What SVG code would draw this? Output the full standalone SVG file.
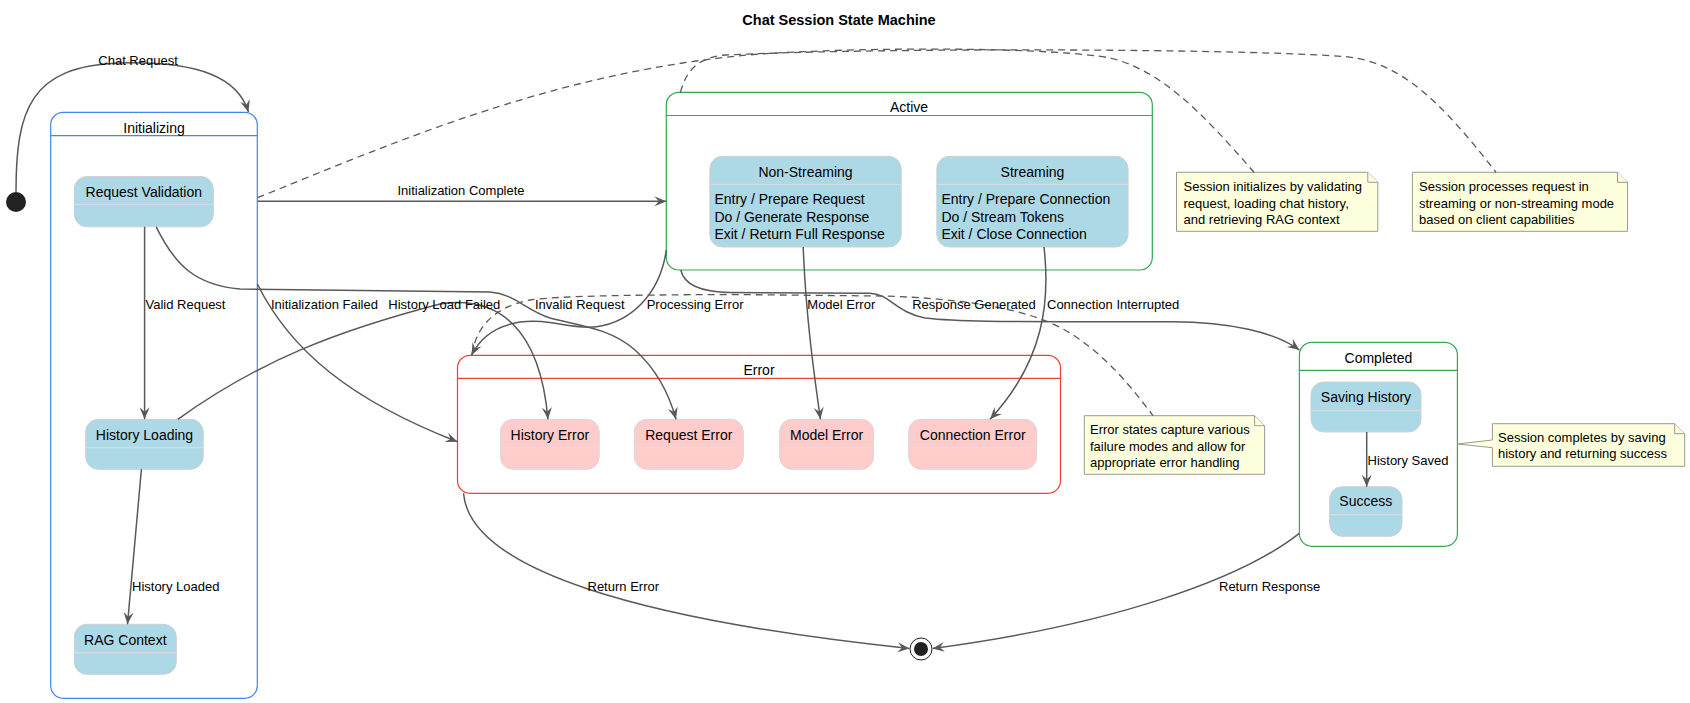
<svg xmlns="http://www.w3.org/2000/svg" width="1690" height="703" viewBox="0 0 1690 703">
<defs>
<marker id="arr" viewBox="0 0 12 12" refX="12" refY="6" markerWidth="12" markerHeight="12" markerUnits="userSpaceOnUse" orient="auto">
<path d="M0,1 L12,6 L0,11 L4.5,6 Z" fill="#595959"/>
</marker>
<style>
text{font-family:"Liberation Sans",Arial,sans-serif;fill:#000}
.title{font-size:14.5px;font-weight:bold;text-anchor:middle}
.st{font-size:14px;text-anchor:middle}
.act{font-size:14px}
.lbl{font-size:13px}
.nt{font-size:13px}
.comp{fill:#fff;stroke-width:1.2}
.blue{stroke:#4285F4}
.green{stroke:#34A853}
.red{stroke:#EA4335}
.sub{fill:#ADD8E6;stroke:#D0D0D0;stroke-width:1}
.esub{fill:#FFCCCC;stroke:#D8D8D8;stroke-width:1}
.div{stroke:#DDDDDD;stroke-width:1}
.note{fill:#FEFFDD;stroke:#999;stroke-width:1}
.tr{fill:none;stroke:#595959;stroke-width:1.5;marker-end:url(#arr)}
.dash{fill:none;stroke:#595959;stroke-width:1.3;stroke-dasharray:7 5}
</style>
</defs>
<rect width="1690" height="703" fill="#fff"/>
<text class="title" x="839" y="25">Chat Session State Machine</text>

<g id="start"><circle cx="16" cy="202" r="10" fill="#222"/></g>

<g id="initializing">
<rect class="comp blue" x="50.7" y="112.3" width="206.6" height="586" rx="12.5"/>
<line class="blue" x1="50.7" y1="135.7" x2="257.3" y2="135.7" stroke-width="1.2"/>
<text class="st" x="154" y="132.5">Initializing</text>
</g>
<g id="request-validation">
<rect class="sub" x="74.3" y="176.5" width="139" height="50.3" rx="12.5"/>
<line class="div" x1="74.3" y1="204.3" x2="213.3" y2="204.3"/>
<text class="st" x="143.8" y="197">Request Validation</text>
</g>
<g id="history-loading">
<rect class="sub" x="85.7" y="419.3" width="117.5" height="50" rx="12.5"/>
<line class="div" x1="85.7" y1="447.7" x2="203.2" y2="447.7"/>
<text class="st" x="144.5" y="440">History Loading</text>
</g>
<g id="rag-context">
<rect class="sub" x="74.3" y="624.3" width="102" height="50" rx="12.5"/>
<line class="div" x1="74.3" y1="652.7" x2="176.3" y2="652.7"/>
<text class="st" x="125.3" y="645">RAG Context</text>
</g>

<g id="active">
<rect class="comp green" x="666.3" y="92.3" width="486" height="177.7" rx="12.5"/>
<line class="green" x1="666.3" y1="115.5" x2="1152.3" y2="115.5" stroke-width="1.2"/>
<text class="st" x="909" y="112">Active</text>
</g>
<g id="non-streaming">
<rect class="sub" x="709.8" y="156.3" width="191.4" height="90.7" rx="12.5"/>
<line class="div" x1="709.8" y1="184.3" x2="901.2" y2="184.3"/>
<text class="st" x="805.5" y="177">Non-Streaming</text>
<text class="act" x="714.4" y="204">Entry / Prepare Request</text>
<text class="act" x="714.4" y="222">Do / Generate Response</text>
<text class="act" x="714.4" y="239">Exit / Return Full Response</text>
</g>
<g id="streaming">
<rect class="sub" x="936.8" y="156.3" width="191.3" height="90.7" rx="12.5"/>
<line class="div" x1="936.8" y1="184.3" x2="1128.1" y2="184.3"/>
<text class="st" x="1032.5" y="177">Streaming</text>
<text class="act" x="941.4" y="204">Entry / Prepare Connection</text>
<text class="act" x="941.4" y="222">Do / Stream Tokens</text>
<text class="act" x="941.4" y="239">Exit / Close Connection</text>
</g>

<g id="error">
<rect class="comp red" x="457.5" y="355.3" width="603" height="138" rx="12.5"/>
<line class="red" x1="457.5" y1="378.3" x2="1060.5" y2="378.3" stroke-width="1.2"/>
<text class="st" x="759" y="375">Error</text>
</g>
<g id="history-error">
<rect class="esub" x="500.4" y="419.3" width="98.8" height="50" rx="12.5"/>
<line class="div" x1="500.4" y1="447.7" x2="599.2" y2="447.7"/>
<text class="st" x="549.8" y="440">History Error</text>
</g>
<g id="request-error">
<rect class="esub" x="634.3" y="419.3" width="109" height="50" rx="12.5"/>
<line class="div" x1="634.3" y1="447.7" x2="743.3" y2="447.7"/>
<text class="st" x="688.8" y="440">Request Error</text>
</g>
<g id="model-error">
<rect class="esub" x="779.6" y="419.3" width="94" height="50" rx="12.5"/>
<line class="div" x1="779.6" y1="447.7" x2="873.6" y2="447.7"/>
<text class="st" x="826.6" y="440">Model Error</text>
</g>
<g id="connection-error">
<rect class="esub" x="908.6" y="419.3" width="128.1" height="50" rx="12.5"/>
<line class="div" x1="908.6" y1="447.7" x2="1036.7" y2="447.7"/>
<text class="st" x="972.7" y="440">Connection Error</text>
</g>

<g id="completed">
<rect class="comp green" x="1299.4" y="342.3" width="158" height="204" rx="12.5"/>
<line class="green" x1="1299.4" y1="370.3" x2="1457.4" y2="370.3" stroke-width="1.2"/>
<text class="st" x="1378.4" y="363">Completed</text>
</g>
<g id="saving-history">
<rect class="sub" x="1311" y="382" width="110" height="50" rx="12.5"/>
<line class="div" x1="1311" y1="410.7" x2="1421" y2="410.7"/>
<text class="st" x="1366" y="402">Saving History</text>
</g>
<g id="success">
<rect class="sub" x="1329.6" y="486.7" width="72.4" height="49.6" rx="12.5"/>
<line class="div" x1="1329.6" y1="514.7" x2="1402" y2="514.7"/>
<text class="st" x="1365.8" y="506">Success</text>
</g>

<g id="end">
<circle cx="921" cy="649" r="11" fill="#fff" stroke="#222" stroke-width="1"/>
<circle cx="921" cy="649" r="7" fill="#222"/>
</g>

<g id="note-init">
<path class="note" d="M1176.5,172.3 L1367.8,172.3 L1377.8,182.3 L1377.8,231.3 L1176.5,231.3 Z"/>
<path class="note" d="M1367.8,172.3 L1367.8,182.3 L1377.8,182.3" fill="none"/>
<text class="nt" x="1183.5" y="191.2">Session initializes by validating</text>
<text class="nt" x="1183.5" y="207.5">request, loading chat history,</text>
<text class="nt" x="1183.5" y="223.8">and retrieving RAG context</text>
</g>
<g id="note-active">
<path class="note" d="M1412.4,172.3 L1617.5,172.3 L1627.5,182.3 L1627.5,231.3 L1412.4,231.3 Z"/>
<path class="note" d="M1617.5,172.3 L1617.5,182.3 L1627.5,182.3" fill="none"/>
<text class="nt" x="1419" y="191.2">Session processes request in</text>
<text class="nt" x="1419" y="207.5">streaming or non-streaming mode</text>
<text class="nt" x="1419" y="223.8">based on client capabilities</text>
</g>
<g id="note-error">
<path class="note" d="M1084.3,415.7 L1254.6,415.7 L1264.6,425.7 L1264.6,474.3 L1084.3,474.3 Z"/>
<path class="note" d="M1254.6,415.7 L1254.6,425.7 L1264.6,425.7" fill="none"/>
<text class="nt" x="1090" y="434.2">Error states capture various</text>
<text class="nt" x="1090" y="450.5">failure modes and allow for</text>
<text class="nt" x="1090" y="466.8">appropriate error handling</text>
</g>
<g id="note-completed">
<path class="note" d="M1492.4,423.7 L1674.7,423.7 L1684.7,433.7 L1684.7,466.3 L1492.4,466.3 L1492.4,447.7 L1457.4,444 L1492.4,440 Z"/>
<path class="note" d="M1674.7,423.7 L1674.7,433.7 L1684.7,433.7" fill="none"/>
<text class="nt" x="1498" y="442.2">Session completes by saving</text>
<text class="nt" x="1498" y="458.2">history and returning success</text>
</g>

<g id="connectors">
<path class="dash" d="M257.6,197.7 C400,140 560,70 760,54 C880,46 1060,48 1110,58 C1160,70 1200,110 1254,172.3"/>
<path class="dash" d="M680.4,92.3 C686,72 696,58 725,55 C900,47 1250,49 1346,56.7 C1400,62 1440,100 1496,172.3"/>
<path class="dash" d="M471.7,355 C476,330 490,308 530,300 C560,296 620,295 730,294.5 L880,296 C960,298 1030,308 1070,333 C1105,355 1130,385 1153,415.7"/>

<path class="tr" d="M16,192 C16,110 30,66 120,63 C200,61 238,78 248.5,112"/>
<text class="lbl" x="98.3" y="65">Chat Request</text>

<path class="tr" d="M257.6,201.3 L666.3,201.3"/>
<text class="lbl" x="461" y="194.8" text-anchor="middle">Initialization Complete</text>

<path class="tr" d="M144.6,226.8 L144.6,419.3"/>
<text class="lbl" x="145.5" y="308.8">Valid Request</text>

<path class="tr" d="M141.4,469.3 L127.5,624.3"/>
<text class="lbl" x="132" y="590.5">History Loaded</text>

<path class="tr" d="M257.4,284 C290,350 350,400 457.5,441.7"/>
<text class="lbl" x="271" y="308.8">Initialization Failed</text>

<path class="tr" d="M177.8,419.3 C260,360 340,330 440,304 C500,295 540,330 548,419.3"/>
<text class="lbl" x="388.3" y="308.8">History Load Failed</text>

<path class="tr" d="M156.2,226.8 C175,265 195,285 240,289 L490,292 C515,294 525,310 550,318 C580,326 610,328 635,350 C655,368 668,390 676,419.3"/>
<text class="lbl" x="535" y="308.8">Invalid Request</text>

<path class="tr" d="M666.3,250 C660,295 630,322 596.7,326.7 C570,330 550,318 520,322 C495,326 480,338 471.7,355"/>
<text class="lbl" x="646.7" y="308.8">Processing Error</text>

<path class="tr" d="M803.2,247 C806,320 815,380 820.4,419.3"/>
<text class="lbl" x="807.3" y="308.8">Model Error</text>

<path class="tr" d="M1044,247 C1050,300 1045,360 990,419.3"/>
<text class="lbl" x="1047" y="308.8">Connection Interrupted</text>

<path class="tr" d="M680.8,270 C684,285 700,292 730,292.5 L870,293.3 C890,294 895,312 925,318 C960,322 1020,321.7 1080,321.7 L1172,321.7 C1230,322 1275,332 1299.4,350"/>
<text class="lbl" x="912.2" y="308.8">Response Generated</text>

<path class="tr" d="M1366.7,432 L1366.7,486.7"/>
<text class="lbl" x="1367.5" y="465.2">History Saved</text>

<path class="tr" d="M463.5,493.3 C470,570 640,620 909.5,648.5"/>
<text class="lbl" x="587.5" y="591">Return Error</text>

<path class="tr" d="M1299.3,533.3 C1240,580 1110,625 932.5,648.5"/>
<text class="lbl" x="1219" y="591">Return Response</text>
</g>
</svg>
